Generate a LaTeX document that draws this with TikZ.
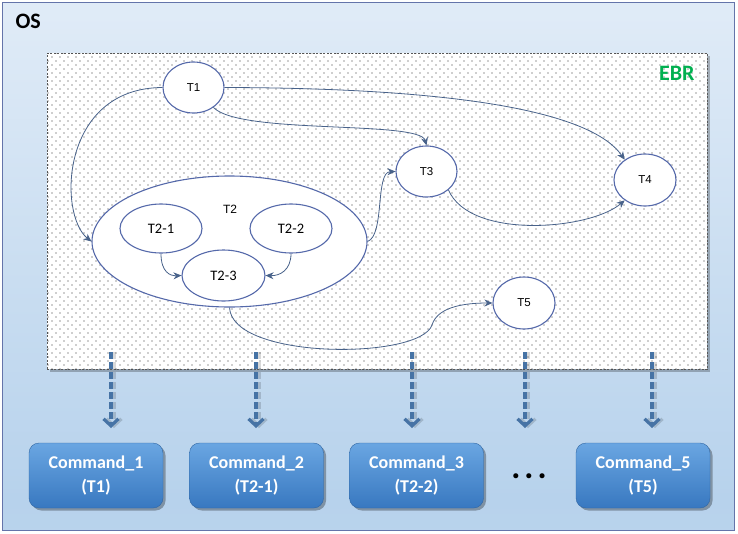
\documentclass[tikz,border=0pt]{standalone}
\usepackage{fontspec}
\setmainfont{Carlito}
\newfontfamily\arialf{Liberation Sans}
\usetikzlibrary{arrows.meta,shapes.geometric,patterns.meta,shadows}

\definecolor{ellborder}{RGB}{85,105,170}
\definecolor{connc}{RGB}{72,98,138}
\definecolor{dashc}{RGB}{70,115,165}
\definecolor{ebrgreen}{RGB}{0,176,80}
\definecolor{osborder}{RGB}{100,116,170}
\definecolor{bgtop}{RGB}{246,249,253}
\definecolor{bgmid}{RGB}{183,210,236}
\definecolor{bgbot}{RGB}{198,220,241}
\definecolor{cmdtop}{RGB}{106,166,226}
\definecolor{cmdbot}{RGB}{56,120,192}

\pgfdeclareverticalshading{osbg}{100bp}{color(0bp)=(bgbot); color(28bp)=(bgmid); color(100bp)=(bgtop)}

\tikzdeclarepattern{
  name=ebrdots,
  type=uncolored,
  bottom left={(-1pt,-1pt)},
  top right={(5pt,5pt)},
  tile size={(8pt,8pt)},
  code={\pgfpathcircle{\pgfpointorigin}{0.6pt}\pgfpathcircle{\pgfpoint{4pt}{4pt}}{0.6pt}\pgfusepath{fill}}
}

\begin{document}
\begin{tikzpicture}[x=1pt,y=-1pt,
  osframe/.style={draw=osborder, line width=1pt, shade, shading=osbg, minimum width=732pt, minimum height=528pt, inner sep=0pt},
  ebrbox/.style={draw=black!65, dash pattern=on 2pt off 1.5pt, line width=0.6pt, fill=white,
     postaction={pattern=ebrdots, pattern color=black!80},
     drop shadow={shadow xshift=3pt, shadow yshift=-3pt, opacity=0.25, fill=black},
     minimum width=660pt, minimum height=316pt, inner sep=0pt},
  task/.style={ellipse, draw=ellborder, line width=1.1pt, fill=white, inner sep=0pt,
     font=\arialf\fontsize{11.5}{13}\selectfont},
  subtask/.style={task, font=\fontsize{14.5}{16}\selectfont},
  conn/.style={draw=connc, line width=0.8pt, -{Stealth[length=8pt,width=7pt]}},
  dasharr/.style={draw=dashc, line width=4pt, dash pattern=on 7pt off 3pt,
     -{Straight Barb[length=7pt,width=15pt,line width=3.2pt]}},
  dashshadow/.style={dasharr, draw=black, opacity=0.15},
  cmd/.style={rounded corners=10pt, minimum width=134pt, minimum height=65pt,
     top color=cmdtop, bottom color=cmdbot, draw=cmdbot!85!black, line width=0.4pt,
     text=white, font=\bfseries\fontsize{18}{24}\selectfont, align=center,
     drop shadow={shadow xshift=2.5pt, shadow yshift=-2.5pt, opacity=0.3, fill=black}},
  biglabel/.style={font=\bfseries\fontsize{22}{24}\selectfont}
]
\useasboundingbox (0,0) rectangle (738,533);

% outer OS frame
\node[osframe] (os) at (368,266) {};
\node[biglabel, anchor=base west] (oslbl) at (12,28.5) {OS};

% EBR area
\node[ebrbox] (ebr) at (377,211) {};
\node[biglabel, text=ebrgreen, anchor=base east] (ebrlbl) at (698,80) {EBR};

% tasks
\node[task, minimum width=275pt, minimum height=131pt] (T2) at (229.5,241.5) {};
\node[font=\arialf\fontsize{12}{14}\selectfont] (T2lbl) at (230,209) {T2};
\node[subtask, minimum width=82pt, minimum height=49pt] (T21) at (161,228.5) {T2-1};
\node[subtask, minimum width=82pt, minimum height=49pt] (T22) at (291,228.5) {T2-2};
\node[subtask, minimum width=83pt, minimum height=51pt] (T23) at (223.5,275.5) {T2-3};
\node[task, minimum width=61pt, minimum height=51pt] (T1) at (193.5,87.5) {T1};
\node[task, minimum width=61pt, minimum height=51pt] (T3) at (426.5,171.5) {T3};
\node[task, minimum width=62pt, minimum height=52pt] (T4) at (645,180) {T4};
\node[task, minimum width=62pt, minimum height=52pt] (T5) at (524,303) {T5};

% connectors
\draw[conn] (T1.west) .. controls (60,88) and (58,215) .. (T2.west);
\draw[conn] (T1.-45) .. controls (240,135) and (420,120) .. (T3.north);
\draw[conn] (T1.east) .. controls (450,88) and (590,110) .. (T4.135);
\draw[conn] (T3.-40) .. controls (470,240) and (590,230) .. (T4.-135);
\draw[conn] (T2.east) .. controls (385,235) and (375,172) .. (T3.west);
\draw[conn] (T2.south) .. controls (232,360) and (420,360) .. (432,325) .. controls (438,305) and (470,303) .. (T5.west);
\draw[conn] (T21.south) .. controls (161,272) and (170,276) .. (T23.west);
\draw[conn] (T22.south) .. controls (291,270) and (280,276) .. (T23.east);

% command boxes
\node[cmd] (c1) at (96,475.5) {Command\_1\\(T1)};
\node[cmd] (c2) at (256.5,475.5) {Command\_2\\(T2-1)};
\node[cmd] (c3) at (416.5,475.5) {Command\_3\\(T2-2)};
\node[cmd] (c5) at (643,475.5) {Command\_5\\(T5)};
\node[font=\bfseries\fontsize{34}{34}\selectfont, anchor=base, inner sep=0pt] (dots) at (529,478.5) {.\hspace{4pt}.\hspace{4pt}.};

% dashed arrows
\foreach \n/\x in {1/111,2/256,3/412,4/525,5/652}{
  \coordinate (s\n) at (\x,352);
  \coordinate (e\n) at (\x,428);
  \draw[dashshadow] ([xshift=3pt]s\n) -- ([xshift=3pt]e\n);
  \draw[dasharr] (s\n) -- (e\n);
}
\end{tikzpicture}
\end{document}
